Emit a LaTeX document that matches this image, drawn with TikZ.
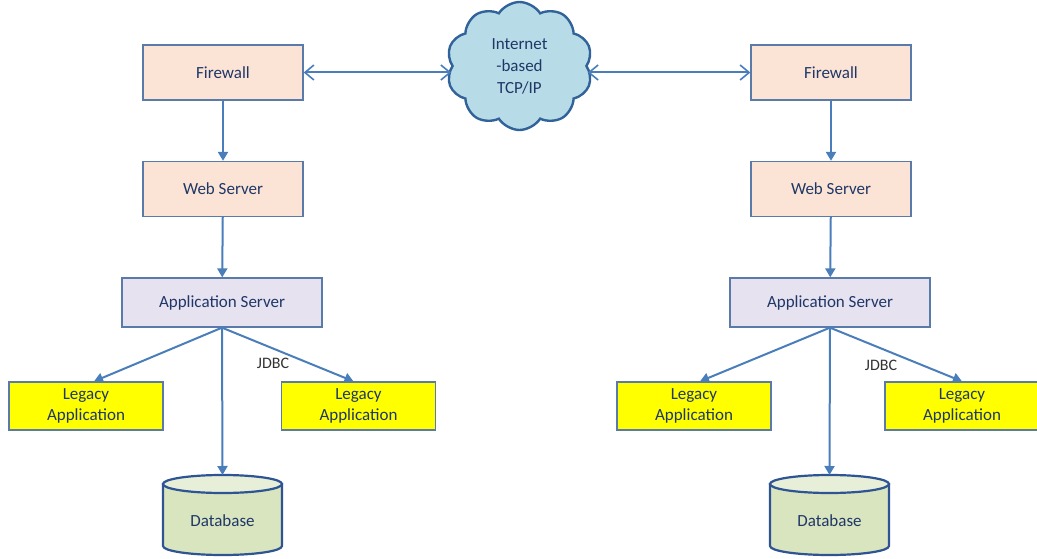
\documentclass[tikz,border=0pt]{standalone}
\usepackage{fontspec}
\setmainfont{Carlito}
\usetikzlibrary{shapes.symbols,arrows.meta}
\pgfdeclarelayer{background}
\pgfsetlayers{background,main}
\definecolor{txt}{HTML}{1F3767}
\definecolor{edge}{HTML}{4A7EBB}
\definecolor{bord}{HTML}{5A7BAA}
\definecolor{fwfill}{HTML}{FBE4D5}
\definecolor{appfill}{HTML}{E6E2F0}
\definecolor{legfill}{HTML}{FFFF00}
\definecolor{dbfill}{HTML}{D9E5BF}
\definecolor{dbtop}{HTML}{E8EFD8}
\definecolor{dbline}{HTML}{2E5493}
\definecolor{cloudfill}{HTML}{B7DCE8}
\definecolor{cloudline}{HTML}{31639A}
\tikzset{
  box/.style={draw=bord, line width=1.3pt, text=txt, align=center, inner sep=0pt,
    font=\fontsize{17}{21}\selectfont},
  fwbox/.style={box, fill=fwfill, minimum width=160pt, minimum height=55pt},
  appbox/.style={box, fill=appfill, minimum width=200pt, minimum height=49pt},
  legbox/.style={box, fill=legfill, minimum width=154pt, minimum height=48pt},
  dbtext/.style={inner sep=0pt, text=txt, font=\fontsize{17}{21}\selectfont},
  dbshape/.style={draw=dbline, line width=2.2pt},
  conn/.style={draw=edge, line width=2pt, -{Triangle[width=10pt,length=9pt]}},
  link/.style={draw=edge, line width=2pt, {Straight Barb[length=9pt,width=15pt,line width=1.6pt]}-{Straight Barb[length=9pt,width=15pt,line width=1.6pt]}},
  lbl/.style={text=black!80, font=\fontsize{16}{20}\selectfont, inner sep=0pt},
}
\begin{document}
\begin{tikzpicture}[x=1pt,y=-1pt]
\useasboundingbox (0,0) rectangle (1037,559);
% cloud
\node[cloud, cloud puffs=10, cloud puff arc=115, aspect=1.15, draw=cloudline, fill=cloudfill,
  line width=2.4pt, minimum width=146pt, minimum height=128pt, inner sep=0pt, text=txt,
  align=center, font=\fontsize{17}{22}\selectfont] (net) at (519.5,66) {Internet\\-based\\TCP/IP};
% left side
\node[fwbox] (fw1) at (223,72.5) {Firewall};
\node[fwbox] (ws1) at (223,189) {Web Server};
\node[appbox] (app1) at (222,302.5) {Application Server};
\node[legbox] (la1) at (86,406) {Legacy\\Application};
\node[legbox] (lb1) at (358.5,406) {Legacy\\Application};
\node[dbtext] (db1) at (222.5,521) {Database};
% right side
\node[fwbox] (fw2) at (831,72.5) {Firewall};
\node[fwbox] (ws2) at (831,189) {Web Server};
\node[appbox] (app2) at (830,302.5) {Application Server};
\node[legbox] (la2) at (694,406) {Legacy\\Application};
\node[legbox] (lb2) at (962,406) {Legacy\\Application};
\node[dbtext] (db2) at (829.5,521) {Database};
% databases (cylinders behind the text)
\foreach \d in {db1,db2}{
  \coordinate (\d top) at ([yshift=46pt]\d.center);
  \begin{pgfonlayer}{background}
  \draw[dbshape, fill=dbfill] ([shift={(-59.5pt,37pt)}]\d.center) -- ([shift={(-59.5pt,-25pt)}]\d.center)
    arc[start angle=180, end angle=360, x radius=59.5pt, y radius=9pt]
    -- ([shift={(59.5pt,37pt)}]\d.center) -- cycle;
  \draw[dbshape, fill=dbtop] ([yshift=37pt]\d.center) ellipse[x radius=59.5pt, y radius=9pt];
  \end{pgfonlayer}
}
% connectors
\draw[link] (fw1.east) -- (fw1.east -| net.west);
\draw[link] (fw2.west -| net.east) -- (fw2.west);
\draw[conn] (fw1) -- (ws1);
\draw[conn] (ws1) -- (app1);
\draw[conn] (app1.south) -- ([xshift=8pt]la1.north);
\draw[conn] (app1.south) -- ([xshift=-5pt]lb1.north);
\draw[conn] (app1.south) -- (db1top);
\draw[conn] (fw2) -- (ws2);
\draw[conn] (ws2) -- (app2);
\draw[conn] (app2.south) -- ([xshift=6pt]la2.north);
\draw[conn] (app2.south) -- ([xshift=0pt]lb2.north);
\draw[conn] (app2.south) -- (db2top);
\node[lbl] (j1) at (273,363) {JDBC};
\node[lbl] (j2) at (881,365) {JDBC};
\end{tikzpicture}
\end{document}
